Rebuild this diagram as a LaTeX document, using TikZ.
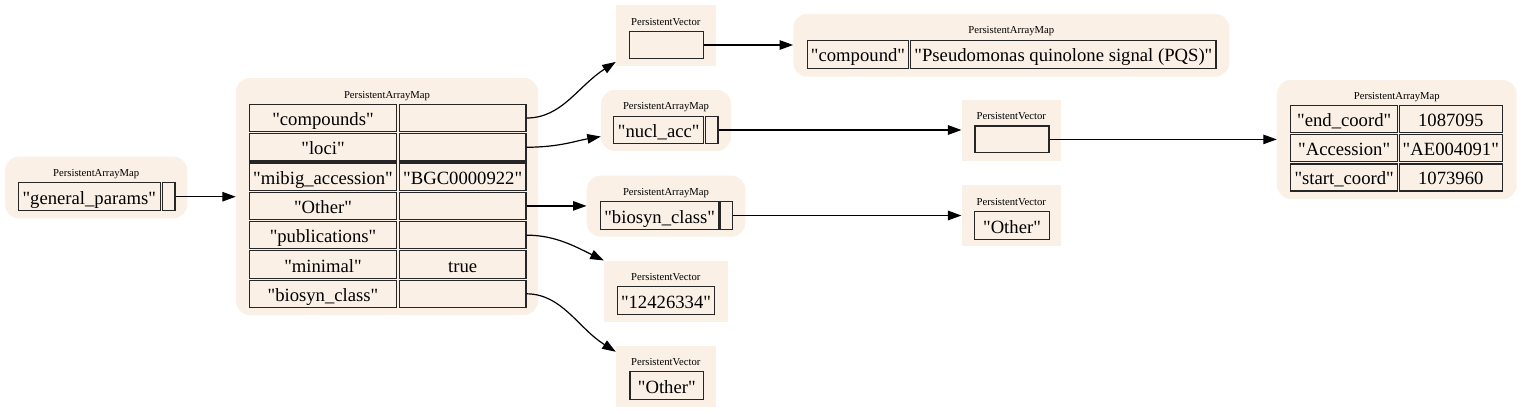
\documentclass[tikz,border=0pt]{standalone}
\usepackage{fontspec}
\setmainfont{Liberation Serif}[Ligatures=TeXOff]
\usetikzlibrary{arrows.meta}

\definecolor{linen}{RGB}{250,240,230}

\tikzset{
    box/.style 2 args={minimum width=#1pt, minimum height=#2pt},
    mapbg/.style={fill=linen, draw=none, rounded corners=14pt, inner sep=0pt},
    vecbg/.style={fill=linen, draw=none, inner sep=0pt},
    cell/.style={draw=black!85, fill=linen, line width=1.2pt, inner sep=0pt,
        font=\fontsize{18.67}{22}\selectfont, text height=18pt, text depth=3pt},
    title/.style={anchor=base, inner sep=0pt, font=\fontsize{10.67}{12}\selectfont},
    link/.style={line width=1.2pt, -{Triangle[length=13.5pt, width=9.5pt]}}
}

\begin{document}
\begin{tikzpicture}[x=1pt, y=-1pt]
    \path[use as bounding box, fill=white] (0,0) rectangle (1523,413);

    % Backgrounds of the maps and vectors
    \node[mapbg, box={182.3}{61.6}] (gpbg) at (96.2,187.5) {};
    \node[mapbg, box={302}{237}] (mbg) at (387,196.5) {};
    \node[vecbg, box={99.7}{60.4}] (pv1bg) at (665.8,35.5) {};
    \node[mapbg, box={436}{62.7}] (cbg) at (1011.3,45.3) {};
    \node[mapbg, box={130}{61}] (nbg) at (666,120.5) {};
    \node[vecbg, box={99.3}{60.7}] (pv2bg) at (1011.3,130.3) {};
    \node[mapbg, box={239.7}{119}] (lbg) at (1396.8,139.5) {};
    \node[mapbg, box={158.6}{61}] (bbg) at (666,206.2) {};
    \node[vecbg, box={99.3}{60.7}] (pv3bg) at (1011.3,215.3) {};
    \node[vecbg, box={123.7}{61.3}] (pv4bg) at (665.8,291.3) {};
    \node[vecbg, box={99.7}{60.7}] (pv5bg) at (665.8,376.3) {};

    % Titles
    \node[title] (gpt) at (96.2,176.5) {PersistentArrayMap};
    \node[title] (mt) at (387,98) {PersistentArrayMap};
    \node[title] (pv1t) at (665.8,25) {PersistentVector};
    \node[title] (ct) at (1011.3,33.5) {PersistentArrayMap};
    \node[title] (nt) at (666,109.5) {PersistentArrayMap};
    \node[title] (pv2t) at (1011.3,119.5) {PersistentVector};
    \node[title] (lt) at (1396.8,99.2) {PersistentArrayMap};
    \node[title] (bt) at (666,195) {PersistentArrayMap};
    \node[title] (pv3t) at (1011.3,205) {PersistentVector};
    \node[title] (pv4t) at (665.8,280) {PersistentVector};
    \node[title] (pv5t) at (665.8,365) {PersistentVector};

    % general_params
    \node[cell, box={142}{28}] (gpk) at (89.3,196.7) {"general\_params"};
    \node[cell, box={12.3}{28}] (gpv) at (168.9,196.7) {};

    % main map, one row per key
    \foreach \i/\key/\val in {0/"compounds"/, 1/"loci"/, 2/"mibig\_accession"/"BGC0000922",
        3/"Other"/, 4/"publications"/, 5/"minimal"/true, 6/"biosyn\_class"/} {
        \node[cell, box={147.4}{27.3}] (mk\i) at (323,118+29.3*\i) {\key};
        \node[cell, box={126.7}{27.3}] (mv\i) at (462.7,118+29.3*\i) {\val};
    }

    % vectors and small maps
    \node[cell, box={74}{26.6}] (pv1c) at (666.7,45) {};
    \node[cell, box={101.4}{28}] (ck) at (858,54.2) {"compound"};
    \node[cell, box={305.3}{28}] (cv) at (1063.4,54.2) {"Pseudomonas quinolone signal (PQS)"};
    \node[cell, box={90}{27.7}] (nk) at (658.7,130) {"nucl\_acc"};
    \node[cell, box={12.3}{27.7}] (nv) at (711.9,130) {};
    \node[cell, box={74}{26.7}] (pv2c) at (1012,139.4) {};
    \node[cell, box={118.7}{27.6}] (bk) at (659.7,215.5) {"biosyn\_class"};
    \node[cell, box={11.6}{27.6}] (bv) at (726.5,215.5) {};
    \node[cell, box={75}{27.6}] (pv3c) at (1012,225.5) {"Other"};
    \node[cell, box={96.6}{27.6}] (pv4c) at (666,300.5) {"12426334"};
    \node[cell, box={73.7}{27.6}] (pv5c) at (666.8,385.5) {"Other"};

    % coordinates map
    \foreach \i/\key/\val in {0/"end\_coord"/1087095, 1/"Accession"/"AE004091", 2/"start\_coord"/1073960} {
        \node[cell, box={107}{27}] (lk\i) at (1344.2,119+29.2*\i) {\key};
        \node[cell, box={103}{27}] (lv\i) at (1450.8,119+29.2*\i) {\val};
    }

    % Straight links
    \draw[link] (gpv.east) -- (gpv.east -| mbg.west);
    \draw[link] (mv3.east) -- (mv3.east -| bbg.west);
    \draw[link] (pv1c.east) -- (pv1c.east -| cbg.west);
    \draw[link] (nv.east) -- (nv.east -| pv2bg.west);
    \draw[link] (pv2c.east) -- (pv2c.east -| lbg.west);
    \draw[link] (bv.east) -- (bv.east -| pv3bg.west);

    % Curved links
    \draw[link] (mv0.east) .. controls (562,118) and (578,86) .. ([yshift=4pt]pv1bg.south west);
    \draw[link] (mv1.east) .. controls (560,147) and (575,141) .. ([yshift=-16pt]nbg.west);
    \draw[link] (mv4.east) .. controls (556,235) and (578,248) .. (pv4bg.north west);
    \draw[link] (mv6.east) .. controls (562,294) and (578,328) .. ([yshift=-6pt]pv5bg.north west);
\end{tikzpicture}
\end{document}
